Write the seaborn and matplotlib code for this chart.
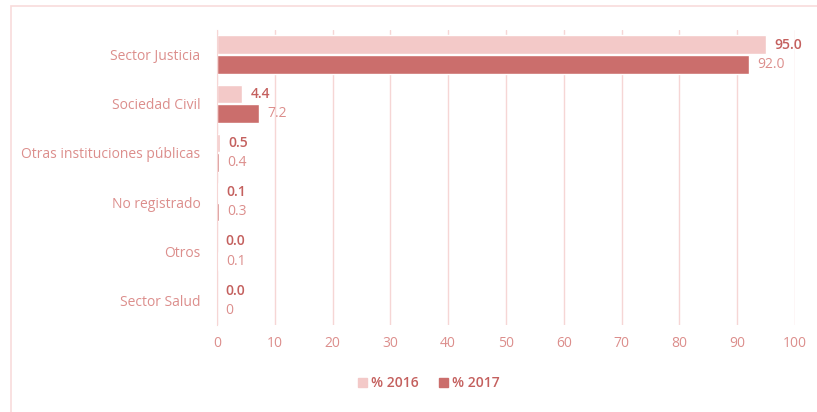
import pandas as pd
import numpy as np
import matplotlib.pyplot as plt
import seaborn as sns
from matplotlib.patches import Rectangle

# data
categorias = ['Sector Justicia', 'Sociedad Civil', 'Otras instituciones públicas',
              'No registrado', 'Otros', 'Sector Salud']
pct_2016 = [95.0, 4.4, 0.5, 0.1, 0.0, 0.0]
pct_2017 = [92.0, 7.2, 0.4, 0.3, 0.1, 0.0]
etiquetas_2016 = ['95.0', '4.4', '0.5', '0.1', '0.0', '0.0']
etiquetas_2017 = ['92.0', '7.2', '0.4', '0.3', '0.1', '0']
series = ['% 2016', '% 2017']
ticks_x = [0, 10, 20, 30, 40, 50, 60, 70, 80, 90, 100]

# build long table for seaborn
df = pd.DataFrame({
    'Categoria': categorias * 2,
    'Valor': pct_2016 + pct_2017,
    'Serie': [series[0]] * len(categorias) + [series[1]] * len(categorias),
})

color_claro = '#f3c9c8'
color_oscuro = '#cb6e6c'
texto = '#dc8e8c'
texto_fuerte = '#c4605e'
grid = '#f6d6d5'

sns.set_style('white')
plt.rcParams['font.family'] = ['Open Sans', 'DejaVu Sans']

fig = plt.figure(figsize=(8.17, 4.12), dpi=100)
ax = fig.add_axes([0.2656, 0.211, 0.7074, 0.716])

sns.barplot(data=df, y='Categoria', x='Valor', hue='Serie', orient='h',
            palette=[color_claro, color_oscuro], width=0.8, gap=0.05,
            saturation=1, ax=ax, legend=True)

# value labels
ax.bar_label(ax.containers[0], labels=etiquetas_2016, padding=6,
             color=texto_fuerte, fontsize=10, fontweight='semibold')
ax.bar_label(ax.containers[1], labels=etiquetas_2017, padding=6,
             color=texto, fontsize=10)

ax.set_xlim(0, 100)
ax.set_ylim(5.5, -0.5)
ax.set_xticks(ticks_x)
ax.set_xticklabels([str(t) for t in ticks_x])
ax.set_xlabel('')
ax.set_ylabel('')
ax.tick_params(axis='both', colors=texto, labelsize=10, length=0, pad=8)
ax.tick_params(axis='y', pad=12)

ax.grid(axis='x', color=grid, linewidth=1)
ax.set_axisbelow(True)
for s in ['top', 'right', 'bottom']:
    ax.spines[s].set_visible(False)
ax.spines['left'].set_color(grid)

# legend below the axis
ax.legend_.remove()
handles = [Rectangle((0, 0), 1, 1, color=color_claro),
           Rectangle((0, 0), 1, 1, color=color_oscuro)]
leg = fig.legend(handles, series, loc='center', bbox_to_anchor=(0.525, 0.07),
                 ncol=2, frameon=False, handlelength=0.6, handleheight=0.6,
                 handletextpad=0.3, columnspacing=1.5,
                 prop={'size': 10, 'weight': 'semibold'})
for t in leg.get_texts():
    t.set_color(texto_fuerte)

# faint frame around the chart, running off the bottom and right edges
fig.patches.append(Rectangle((0.0135, -0.05), 1.1, 1.035, transform=fig.transFigure,
                             fill=False, edgecolor='#f8dcdb', linewidth=1.2))

fig.savefig('out.png', dpi=100)
